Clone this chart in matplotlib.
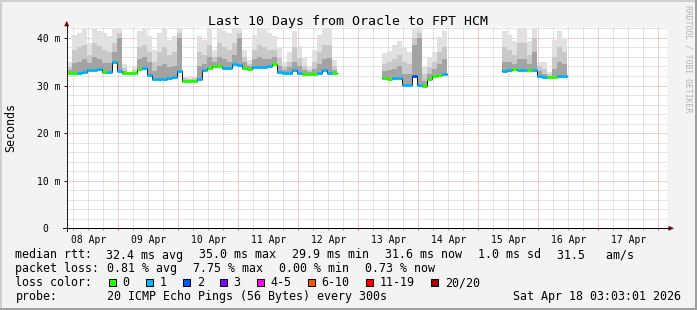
import numpy as np
import pandas as pd
import matplotlib
matplotlib.use("Agg")
import matplotlib.pyplot as plt
import matplotlib.dates as mdates
from matplotlib.patches import Rectangle, Polygon
from matplotlib.lines import Line2D
from matplotlib.transforms import Affine2D
from matplotlib.ticker import FixedLocator, MultipleLocator, FuncFormatter, NullFormatter

W, H, DPI = 697, 310, 100
MONO = "DejaVu Sans Mono"

# ---- data ---------------------------------------------------------------
t_start = pd.Timestamp("2026-04-08 03:20")
t_end = pd.Timestamp("2026-04-18 03:20")
bin_hours = 2
# stretches that have data: (first bin, number of bins)
runs = [(0, 54), (63, 13), (87, 13)]

median_ms = [
    32.6, 32.6, 32.7, 32.8, 33.3, 33.2, 33.4, 32.8, 32.9, 35.0,
    33.0, 32.6, 32.6, 32.6, 33.4, 33.7, 32.3, 31.3, 31.3, 31.3,
    31.5, 31.8, 33.0, 30.9, 30.9, 30.9, 31.4, 33.3, 33.6, 34.0,
    34.1, 33.6, 33.6, 34.6, 34.4, 33.6, 33.5, 33.8, 33.9, 33.9,
    34.0, 34.5, 32.9, 32.7, 32.7, 33.3, 32.7, 32.5, 32.5, 32.5,
    32.7, 33.3, 32.7, 32.6,
    31.6, 31.4, 31.6, 31.6, 30.2, 30.2, 32.0, 30.2, 30.0, 31.4, 32.1, 32.2, 32.4,
    33.0, 33.2, 33.4, 33.3, 33.3, 33.2, 33.2, 32.0, 31.8, 31.8, 31.8, 32.1, 31.9,
]
# lost pings per bin (index into loss_colors)
loss = [
    0, 0, 1, 1, 1, 1, 1, 0, 1, 1,
    1, 0, 0, 0, 0, 1, 1, 1, 1, 1,
    1, 1, 1, 0, 0, 0, 1, 1, 0, 0,
    0, 1, 1, 1, 1, 0, 0, 1, 1, 1,
    1, 0, 1, 1, 1, 1, 1, 0, 0, 0,
    1, 1, 1, 0,
    0, 0, 1, 1, 1, 1, 2, 1, 0, 0, 0, 0, 1,
    1, 1, 0, 1, 1, 0, 1, 1, 1, 0, 0, 1, 1,
]
smoke_top = [
    35.0, 40.7, 41.1, 41.8, 38.9, 42.1, 41.4, 41.1, 40.4, 42.1,
    42.1, 34.6, 32.9, 33.9, 41.4, 42.1, 40.4, 37.5, 41.1, 41.8,
    39.6, 40.4, 42.1, 32.1, 31.8, 32.0, 40.4, 39.6, 41.8, 37.5,
    42.1, 41.4, 41.1, 42.1, 42.1, 37.5, 35.4, 40.7, 42.1, 41.8,
    41.1, 40.4, 37.9, 35.0, 37.1, 41.4, 38.2, 35.7, 33.9, 37.5,
    40.7, 42.1, 42.1, 35.4,
    36.9, 37.3, 38.5, 39.4, 38.0, 37.0, 41.8, 42.2, 34.0, 35.8, 37.0, 40.1, 41.5,
    41.4, 40.7, 39.3, 42.1, 42.1, 39.3, 42.1, 35.0, 35.0, 32.9, 39.5, 41.4, 40.0,
]
smoke_mid = [
    33.8, 37.5, 38.0, 38.5, 36.5, 39.0, 38.2, 37.5, 37.0, 39.0,
    41.0, 33.6, 32.8, 33.2, 38.0, 38.5, 37.0, 35.0, 37.0, 38.0,
    36.5, 37.0, 41.0, 31.5, 31.4, 31.5, 37.0, 36.5, 38.5, 36.0,
    39.0, 38.0, 37.5, 39.0, 41.0, 36.0, 34.6, 37.5, 38.5, 38.0,
    37.5, 37.5, 35.8, 34.0, 35.0, 38.0, 35.8, 34.2, 33.2, 35.0,
    37.0, 38.5, 38.5, 34.0,
    34.5, 35.0, 35.5, 36.5, 35.0, 34.5, 40.0, 41.0, 32.5, 33.8, 35.0, 37.0, 38.0,
    38.0, 37.5, 36.5, 39.0, 39.0, 36.5, 40.0, 34.0, 33.5, 32.4, 36.0, 38.0, 37.0,
]
smoke_dark = [
    33.2, 34.8, 35.0, 35.5, 34.8, 36.0, 35.5, 34.8, 34.8, 37.0,
    40.0, 33.0, 32.7, 32.9, 35.5, 36.0, 35.0, 33.0, 34.0, 34.5,
    33.8, 34.0, 40.0, 31.2, 31.1, 31.2, 34.0, 34.5, 36.0, 35.0,
    36.0, 35.5, 35.0, 36.5, 40.0, 35.0, 34.0, 35.5, 36.0, 35.5,
    35.5, 36.0, 34.2, 33.3, 33.8, 35.0, 34.0, 33.3, 32.8, 33.5,
    34.5, 35.5, 35.8, 33.2,
    33.0, 33.2, 33.5, 34.0, 32.5, 32.5, 38.5, 40.0, 31.0, 32.5, 33.5, 34.5, 35.5,
    35.0, 35.0, 34.5, 35.5, 35.5, 34.5, 37.0, 33.0, 32.5, 32.1, 33.5, 35.0, 34.5,
]

loss_labels = ["0", "1", "2", "3", "4-5", "6-10", "11-19", "20/20"]
loss_colors = ["#26ff00", "#00b8ff", "#0059ff", "#7e00ff",
               "#ff00ff", "#ff5500", "#ff0000", "#a10000"]

y_ticks = [0, 10, 20, 30, 40]
y_ticklabels = ["0  ", "10 m", "20 m", "30 m", "40 m"]

title = "Last 10 Days from Oracle to FPT HCM"
stats_rtt = ["32.4 ms avg", "35.0 ms max", "29.9 ms min",
             "31.6 ms now", "1.0 ms sd", "31.5   am/s"]
stats_loss = ["0.81 % avg", "7.75 % max", "0.00 % min", "0.73 % now"]
probe_text = "20 ICMP Echo Pings (56 Bytes) every 300s"
stamp = "Sat Apr 18 03:03:01 2026"

# ---- figure ---------------------------------------------------------------
plt.rcParams["font.family"] = MONO
fig = plt.figure(figsize=(W / DPI, H / DPI), dpi=DPI, facecolor="#f3f3f3")
# pixel coords, origin top-left
pix = Affine2D().scale(1.0 / W, -1.0 / H).translate(0, 1) + fig.transFigure

# canvas frame in pixels
c_left, c_right, c_bottom, c_top = 66.7, 666.7, 228.3, 26.5
ax = fig.add_axes([c_left / W, 1 - c_bottom / H,
                   (c_right - c_left) / W, (c_bottom - c_top) / H])
ax.set_facecolor("white")
x0 = mdates.date2num(t_start.to_pydatetime())
x1 = mdates.date2num(t_end.to_pydatetime())
ax.set_xlim(x0, x1)
ax.set_ylim(0, 42.4)
for s in ax.spines.values():
    s.set_visible(False)

# grid
ax.xaxis.set_major_locator(mdates.DayLocator())
ax.xaxis.set_minor_locator(mdates.HourLocator(byhour=[6, 12, 18]))
ax.xaxis.set_major_formatter(NullFormatter())


def day_label(v, pos):
    d = mdates.num2date(v)
    return d.strftime("%d Apr") if d.hour == 12 else ""


ax.xaxis.set_minor_formatter(FuncFormatter(day_label))
ax.yaxis.set_major_locator(FixedLocator(y_ticks))
ax.set_yticklabels(y_ticklabels)
ax.yaxis.set_minor_locator(MultipleLocator(2))
ax.grid(which="major", color="#eb9a9a", lw=0.72, ls=(0, (1, 1)))
ax.grid(which="minor", color="#cacaca", lw=0.72, ls=(0, (1, 1)))
ax.set_axisbelow(True)

ax.tick_params(axis="x", which="major", length=1.6, width=0.72, color="#de5050")
ax.tick_params(axis="x", which="minor", length=1.6, width=0.72, color="#a0a0a0",
               labelsize=7, pad=3.2)
ax.tick_params(axis="y", which="major", length=2.2, width=0.72, color="#1f1f1f",
               labelsize=7, pad=2.4)
ax.tick_params(axis="y", which="minor", length=0)

# ---- smoke + median ---------------------------------------------------------
idx = np.concatenate([np.arange(s, s + n) for s, n in runs])
step = bin_hours / 24.0
x_left = x0 + idx * step
med = np.array(median_ms)
layers = [(smoke_top, "#e1e1e1"), (smoke_mid, "#c8c8c8"), (smoke_dark, "#a3a3a3")]

pos = 0
for s, n in runs:
    sl = slice(pos, pos + n)
    xs = np.append(x_left[sl], x_left[sl][-1] + step)
    m = np.append(med[sl], med[sl][-1])
    for vals, col in layers:
        v = np.array(vals)[sl]
        ax.fill_between(xs, m, np.append(v, v[-1]), step="post",
                        color=col, lw=0, zorder=2)
    ax.step(xs, m, where="post", color="#202020", lw=0.72, zorder=3)
    pos += n

ax.hlines(med, x_left, x_left + step, colors=[loss_colors[k] for k in loss],
          lw=2.16, zorder=4)

# ---- axes lines and arrows ---------------------------------------------------
fig.add_artist(Line2D([c_left, c_left], [231, 25], transform=pix, color="#1f1f1f", lw=0.72))
fig.add_artist(Line2D([63, 669], [c_bottom, c_bottom], transform=pix, color="black", lw=0.72))
fig.add_artist(Polygon([(64.2, 26.3), (69.2, 26.3), (66.7, 20.8)], closed=True,
                       transform=pix, color="#7f0000", lw=0))
fig.add_artist(Polygon([(668.5, 225.8), (668.5, 230.8), (674, 228.3)], closed=True,
                       transform=pix, color="#7f0000", lw=0))

# ---- frame ------------------------------------------------------------------
for (rx, ry, rw, rh), col in [((0, 0, W, 2), "#cfcfcf"), ((0, 0, 2, H), "#cfcfcf"),
                              ((0, H - 2, W, 2), "#9e9e9e"), ((W - 2, 0, 2, H), "#9e9e9e")]:
    fig.add_artist(Rectangle((rx, ry), rw, rh, transform=pix, color=col, lw=0))

# ---- texts ------------------------------------------------------------------
LS = 8.37
CW = 7.0
GAP = 16.0


def ptext(x, y, s, **kw):
    kw.setdefault("fontsize", LS)
    kw.setdefault("va", "baseline")
    return fig.text(x, y, s, transform=pix, **kw)


ptext(347.5, 24.5, title, fontsize=9.5, ha="center")
ptext(10.5, 127.5, "Seconds", rotation=90, ha="center", va="center")
ptext(688, 59, "RRDTOOL / TOBI OETIKER", fontsize=5.9, color="#b3b3b3",
      rotation=270, ha="center", va="center")

row_y = [258.5, 272.2, 286.0, 299.8]

ptext(15.4, row_y[0], "median rtt:")
x = 106.1
for s in stats_rtt:
    ptext(x, row_y[0], s)
    x += len(s) * CW + GAP

ptext(15.4, row_y[1], "packet loss:")
x = 106.7
for s in stats_loss:
    ptext(x, row_y[1], s)
    x += len(s) * CW + GAP

ptext(15.4, row_y[2], "loss color:")
bx = 108.3
for lab, col in zip(loss_labels, loss_colors):
    fig.add_artist(Rectangle((bx + 0.5, 278.8), 7.4, 7.4, transform=pix,
                             facecolor=col, edgecolor="black", lw=0.72))
    ptext(bx + 14.4, row_y[2], lab)
    bx += 15 + len(lab) * CW + 15

ptext(15.4, row_y[3], "probe:")
ptext(106.7, row_y[3], probe_text)
ptext(680.6, row_y[3], stamp, ha="right")

fig.savefig("out.png", dpi=DPI, facecolor=fig.get_facecolor())
